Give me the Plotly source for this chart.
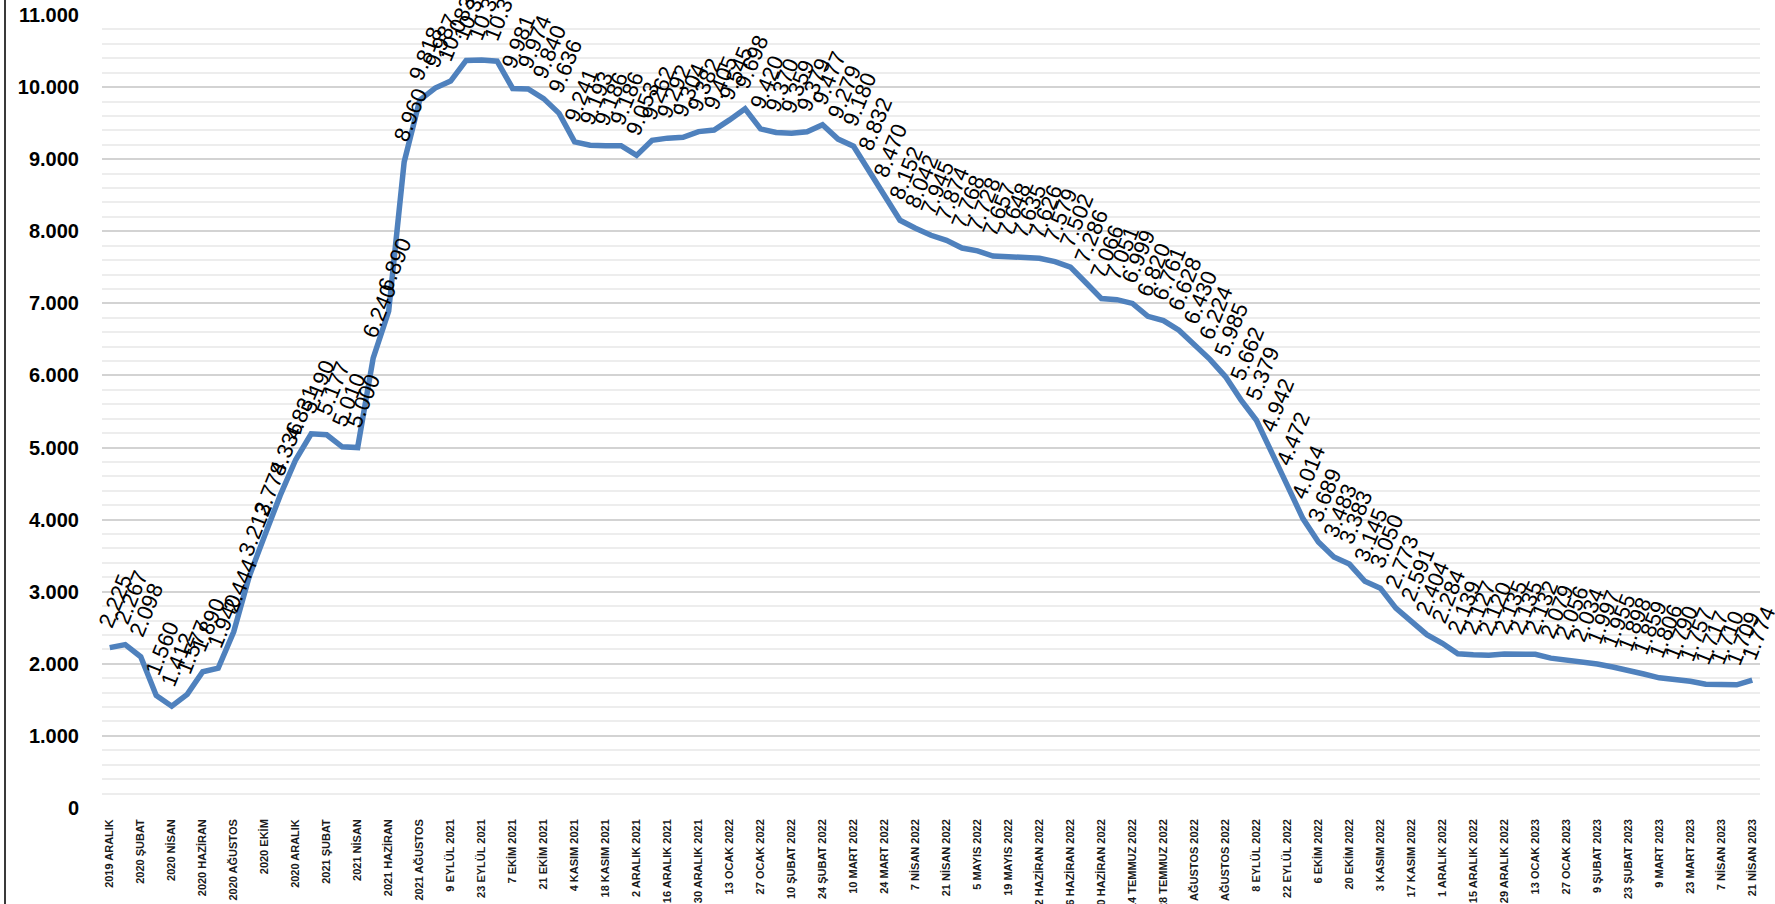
import plotly.graph_objects as go

categories = [
    "2019 ARALIK", "2020 OCAK", "2020 ŞUBAT", "2020 MART", "2020 NİSAN", "2020 MAYIS",
    "2020 HAZİRAN", "2020 TEMMUZ", "2020 AĞUSTOS", "2020 EYLÜL", "2020 EKİM", "2020 KASIM",
    "2020 ARALIK", "2021 OCAK", "2021 ŞUBAT", "2021 MART", "2021 NİSAN", "2021 MAYIS",
    "2021 HAZİRAN", "2021 TEMMUZ", "2021 AĞUSTOS",
    "2 EYLÜL 2021", "9 EYLÜL 2021", "16 EYLÜL 2021", "23 EYLÜL 2021", "30 EYLÜL 2021",
    "7 EKİM 2021", "14 EKİM 2021", "21 EKİM 2021", "28 EKİM 2021", "4 KASIM 2021",
    "11 KASIM 2021", "18 KASIM 2021", "25 KASIM 2021", "2 ARALIK 2021", "9 ARALIK 2021",
    "16 ARALIK 2021", "23 ARALIK 2021", "30 ARALIK 2021", "6 OCAK 2022", "13 OCAK 2022",
    "20 OCAK 2022", "27 OCAK 2022", "3 ŞUBAT 2022", "10 ŞUBAT 2022", "17 ŞUBAT 2022",
    "24 ŞUBAT 2022", "3 MART 2022", "10 MART 2022", "17 MART 2022", "24 MART 2022",
    "31 MART 2022", "7 NİSAN 2022", "14 NİSAN 2022", "21 NİSAN 2022", "28 NİSAN 2022",
    "5 MAYIS 2022", "12 MAYIS 2022", "19 MAYIS 2022", "26 MAYIS 2022", "2 HAZİRAN 2022",
    "9 HAZİRAN 2022", "16 HAZİRAN 2022", "23 HAZİRAN 2022", "30 HAZİRAN 2022", "7 TEMMUZ 2022",
    "14 TEMMUZ 2022", "21 TEMMUZ 2022", "28 TEMMUZ 2022", "4 AĞUSTOS 2022", "11 AĞUSTOS 2022",
    "18 AĞUSTOS 2022", "25 AĞUSTOS 2022", "1 EYLÜL 2022", "8 EYLÜL 2022", "15 EYLÜL 2022",
    "22 EYLÜL 2022", "29 EYLÜL 2022", "6 EKİM 2022", "13 EKİM 2022", "20 EKİM 2022",
    "27 EKİM 2022", "3 KASIM 2022", "10 KASIM 2022", "17 KASIM 2022", "24 KASIM 2022",
    "1 ARALIK 2022", "8 ARALIK 2022", "15 ARALIK 2022", "22 ARALIK 2022", "29 ARALIK 2022",
    "6 OCAK 2023", "13 OCAK 2023", "20 OCAK 2023", "27 OCAK 2023", "3 ŞUBAT 2023",
    "9 ŞUBAT 2023", "16 ŞUBAT 2023", "23 ŞUBAT 2023", "2 MART 2023", "9 MART 2023",
    "16 MART 2023", "23 MART 2023", "31 MART 2023", "7 NİSAN 2023", "14 NİSAN 2023",
    "21 NİSAN 2023",
]

values = [
    2225, 2267, 2098, 1560, 1412, 1577, 1890, 1940, 2444, 3212,
    3778, 4336, 4831, 5190, 5177, 5010, 5000, 6240, 6890, 8960,
    9818, 9987, 10083, 10370, 10375, 10360, 9981, 9974, 9840, 9636,
    9241, 9193, 9186, 9186, 9053, 9262, 9292, 9304, 9382, 9405,
    9545, 9698, 9420, 9370, 9359, 9379, 9477, 9279, 9180, 8832,
    8470, 8152, 8042, 7945, 7874, 7768, 7728, 7657, 7648, 7635,
    7626, 7579, 7502, 7286, 7066, 7051, 6999, 6820, 6761, 6628,
    6430, 6224, 5985, 5662, 5379, 4942, 4472, 4014, 3689, 3483,
    3383, 3145, 3050, 2773, 2591, 2404, 2284, 2139, 2127, 2120,
    2135, 2135, 2132, 2079, 2056, 2034, 1997, 1955, 1898, 1859,
    1806, 1790, 1757, 1717, 1710, 1709, 1774,
]

tick_labels = categories[::2]

FONT = "Liberation Sans"

fig = go.Figure()
fig.add_trace(go.Scatter(
    x=categories, y=values, mode="lines",
    line=dict(color="#4F81BD", width=5.5),
    hoverinfo="x+y", showlegend=False,
))

annotations = []
for c, v in zip(categories, values):
    annotations.append(dict(
        x=c, y=v, xref="x", yref="y",
        text=f"{v:,}".replace(",", "."),
        showarrow=False, textangle=-68,
        xanchor="center", yanchor="bottom",
        xshift=6, yshift=14,
        font=dict(family=FONT, size=22, color="#000000"),
    ))

fig.update_layout(
    width=1775, height=904,
    margin=dict(l=102, r=15, t=15, b=96),
    paper_bgcolor="white", plot_bgcolor="white",
    separators=",.",
    annotations=annotations,
    shapes=[dict(type="line", xref="paper", yref="paper",
                 x0=-0.0585, x1=-0.0585, y0=-0.13, y1=1.03,
                 line=dict(color="#3a3a3a", width=2))],
    xaxis=dict(
        type="category", categoryorder="array", categoryarray=categories,
        range=[-0.5, len(categories) - 0.5],
        tickmode="array", tickvals=tick_labels, ticktext=tick_labels,
        tickangle=-90, showgrid=False, zeroline=False, showline=False,
        ticks="", automargin=False, ticklabelstandoff=8,
        tickfont=dict(family=FONT, size=11, color="#1a1a1a", weight="bold"),
    ),
    yaxis=dict(
        range=[0, 11000], dtick=1000, tickformat=",d",
        showgrid=True, gridcolor="#D3D3D3", gridwidth=1.5,
        minor=dict(dtick=200, showgrid=True, gridcolor="#EDEDED", gridwidth=1.5),
        zeroline=False, showline=False, ticks="", automargin=False,
        ticklabelstandoff=22,
        tickfont=dict(family=FONT, size=20, color="#000000", weight="bold"),
    ),
)

fig.write_html(
    "out.html",
    config={"displayModeBar": False},
    post_script="document.body.style.margin='0';document.body.style.overflow='hidden';",
)
